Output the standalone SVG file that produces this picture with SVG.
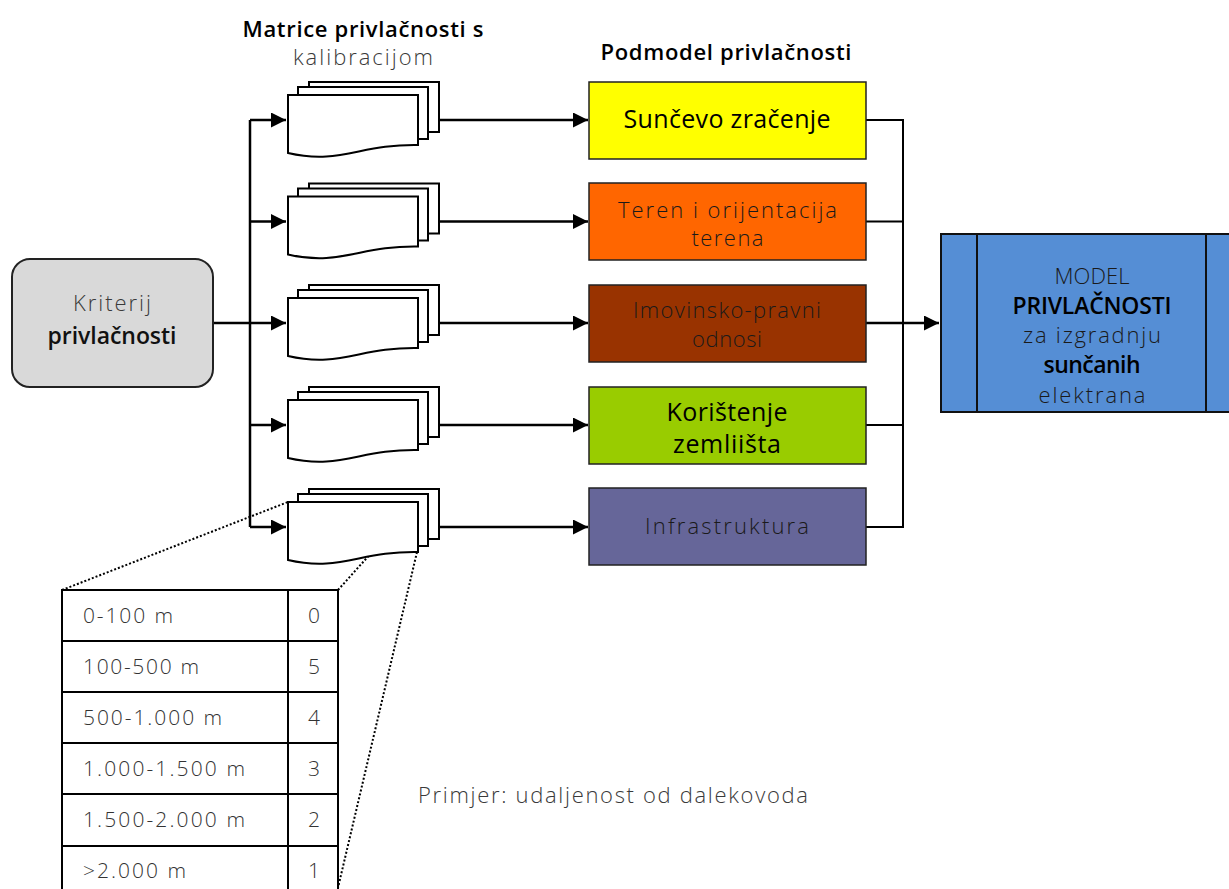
<svg xmlns="http://www.w3.org/2000/svg" width="1229" height="889" viewBox="0 0 1229 889">
<defs>
<style>
text{font-family:"Open Sans","Noto Sans","DejaVu Sans",sans-serif;font-size:22px;fill:#1a1a1a;text-anchor:middle}
.lt{font-weight:300}
.bd{font-weight:600;fill:#000;font-size:23px}
.bb{font-weight:500;fill:#000;font-size:25px}
.gr{fill:#3a3a3a;font-weight:300}
.doc{fill:#fff;stroke:#000;stroke-width:2}
.box{stroke:#222;stroke-width:1.5}
.con{fill:none;stroke:#000;stroke-width:2.5}
.dot{fill:none;stroke:#000;stroke-width:2;stroke-dasharray:2 2}
.tbl{fill:#fff;stroke:#000;stroke-width:2}
.tt{font-weight:300;fill:#333;font-size:21px;text-anchor:start}
.tn{font-weight:300;fill:#333;font-size:21px}
</style>
<marker id="ah" viewBox="0 0 10 10" refX="10" refY="5" markerWidth="6" markerHeight="6" markerUnits="strokeWidth" orient="auto">
<path d="M0,0 L10,5 L0,10 z" fill="#000"/>
</marker>
<g id="stack">
<rect x="309" y="-38" width="130" height="50" class="doc"/>
<rect x="298" y="-33" width="130" height="52" class="doc"/>
<path d="M288,-25 H418 V25 C360,24 340,45 288,33 Z" class="doc"/>
</g>
</defs>
<rect width="1229" height="889" fill="#fff"/>

<!-- headers -->
<text x="363" y="37" class="bd" style="font-size:22px" textLength="241" lengthAdjust="spacing">Matrice privlačnosti s</text>
<text x="363" y="65" class="gr" textLength="140" lengthAdjust="spacing">kalibracijom</text>
<text x="726" y="60" class="bd" style="font-size:22px" textLength="251" lengthAdjust="spacing">Podmodel privlačnosti</text>

<!-- connectors -->
<g id="connectors">
<path d="M213,323 H286" class="con" marker-end="url(#ah)"/>
<path d="M250,120 V527" class="con"/>
<path d="M250,120 H286" class="con" marker-end="url(#ah)"/>
<path d="M250,221.5 H286" class="con" marker-end="url(#ah)"/>
<path d="M250,425 H286" class="con" marker-end="url(#ah)"/>
<path d="M250,527 H286" class="con" marker-end="url(#ah)"/>
<path d="M439,120 H588" class="con" marker-end="url(#ah)"/>
<path d="M439,221.5 H588" class="con" marker-end="url(#ah)"/>
<path d="M439,323 H588" class="con" marker-end="url(#ah)"/>
<path d="M439,425 H588" class="con" marker-end="url(#ah)"/>
<path d="M439,527 H588" class="con" marker-end="url(#ah)"/>
<path d="M866,120 H903 V527 H866" fill="none" stroke="#000" stroke-width="2"/>
<path d="M866,221.5 H903 M866,425 H903" fill="none" stroke="#000" stroke-width="2"/>
<path d="M866,323 H939" class="con" marker-end="url(#ah)"/>
<path d="M62,590 L288,502" class="dot"/>
<path d="M338,590 L417,502" class="dot"/>
<path d="M417,552 L337,892" class="dot"/>
</g>

<!-- Kriterij -->
<g id="kriterij">
<rect x="12" y="259" width="201" height="128" rx="18" fill="#d9d9d9" stroke="#222" stroke-width="2"/>
<text x="112" y="311" class="gr" textLength="78" lengthAdjust="spacing">Kriterij</text>
<text x="112" y="344" class="bd" style="fill:#111" textLength="129" lengthAdjust="spacing">privlačnosti</text>
</g>

<!-- document stacks -->
<g id="doc1"><use href="#stack" transform="translate(0,120)"/></g>
<g id="doc2"><use href="#stack" transform="translate(0,221.5)"/></g>
<g id="doc3"><use href="#stack" transform="translate(0,323)"/></g>
<g id="doc4"><use href="#stack" transform="translate(0,425)"/></g>
<g id="doc5"><use href="#stack" transform="translate(0,527)"/></g>

<!-- submodels -->
<g id="sunce">
<rect x="589" y="82" width="277" height="77" fill="#ffff00" class="box"/>
<text x="727" y="128" class="bb" textLength="207" lengthAdjust="spacing">Sunčevo zračenje</text>
</g>
<g id="teren">
<rect x="589" y="183" width="277" height="77" fill="#ff6600" class="box"/>
<text x="727.5" y="218" class="lt" textLength="219" lengthAdjust="spacing">Teren i orijentacija</text>
<text x="727.5" y="246" class="lt" textLength="72" lengthAdjust="spacing">terena</text>
</g>
<g id="imovina">
<rect x="589" y="285" width="277" height="77" fill="#993300" class="box"/>
<text x="727" y="318" class="lt" textLength="188" lengthAdjust="spacing">Imovinsko-pravni</text>
<text x="727" y="347" class="lt" textLength="70" lengthAdjust="spacing">odnosi</text>
</g>
<g id="zemljiste">
<rect x="589" y="387" width="277" height="77" fill="#99cc00" class="box"/>
<text x="727" y="421" class="bb" textLength="121" lengthAdjust="spacing">Korištenje</text>
<text x="727" y="453" class="bb" textLength="108" lengthAdjust="spacing">zemliišta</text>
</g>
<g id="infra">
<rect x="589" y="488" width="277" height="77" fill="#666699" class="box"/>
<text x="727" y="534" class="lt" textLength="164" lengthAdjust="spacing">Infrastruktura</text>
</g>

<!-- model -->
<g id="model">
<rect x="941" y="234" width="302" height="178" fill="#558ed5" stroke="#111" stroke-width="2"/>
<path d="M977,234 V412 M1206,234 V412" stroke="#111" stroke-width="2"/>
<text x="1092" y="284" class="lt" textLength="75" lengthAdjust="spacing">MODEL</text>
<text x="1092" y="314" class="bd" textLength="159" lengthAdjust="spacing">PRIVLAČNOSTI</text>
<text x="1092" y="343" class="lt" textLength="138" lengthAdjust="spacing">za izgradnju</text>
<text x="1092" y="373" class="bd" textLength="97" lengthAdjust="spacing">sunčanih</text>
<text x="1092" y="403" class="lt" textLength="107" lengthAdjust="spacing">elektrana</text>
</g>

<!-- table -->
<g id="table">
<rect x="62" y="590" width="226" height="310" class="tbl"/>
<rect x="288" y="590" width="50" height="310" class="tbl"/>
<path d="M62,641 H338 M62,692 H338 M62,743 H338 M62,794 H338 M62,846 H338" stroke="#000" stroke-width="2"/>
<text x="83" y="623" class="tt" textLength="90" lengthAdjust="spacing">0-100 m</text>
<text x="83" y="674" class="tt" textLength="116" lengthAdjust="spacing">100-500 m</text>
<text x="83" y="725" class="tt" textLength="139" lengthAdjust="spacing">500-1.000 m</text>
<text x="83" y="776" class="tt" textLength="162" lengthAdjust="spacing">1.000-1.500 m</text>
<text x="83" y="827" class="tt" textLength="162" lengthAdjust="spacing">1.500-2.000 m</text>
<text x="83" y="878" class="tt" textLength="103" lengthAdjust="spacing">&gt;2.000 m</text>
<text x="314" y="623" class="tn">0</text>
<text x="314" y="674" class="tn">5</text>
<text x="314" y="725" class="tn">4</text>
<text x="314" y="776" class="tn">3</text>
<text x="314" y="827" class="tn">2</text>
<text x="314" y="878" class="tn">1</text>
</g>

<text x="613" y="803" class="gr" textLength="390" lengthAdjust="spacing">Primjer: udaljenost od dalekovoda</text>
</svg>
